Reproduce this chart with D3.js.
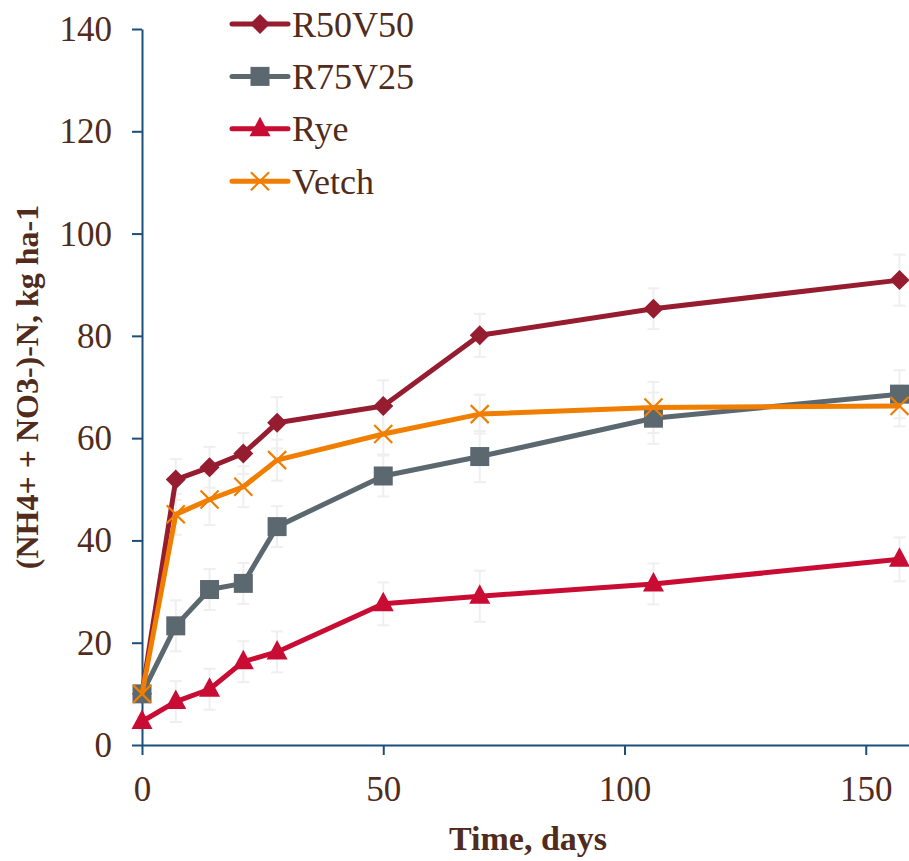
<!DOCTYPE html>
<html>
<head>
<meta charset="utf-8">
<script src="https://cdn.jsdelivr.net/npm/d3@7"></script>
<style>
  body { margin: 0; background: #fff; }
</style>
</head>
<body>
<div id="chart"></div>
<script>
// data
const days = [0, 7, 14, 21, 28, 50, 70, 106, 157]
const seriesNames = ['R50V50', 'R75V25', 'Rye', 'Vetch']
const r50v50 = [10, 51.9, 54.3, 57.0, 63.0, 66.3, 80.1, 85.3, 90.9]
const r75v25 = [10, 23.3, 30.4, 31.6, 42.7, 52.6, 56.4, 63.9, 68.6]
const rye = [4.6, 8.5, 10.9, 16.3, 18.2, 27.6, 29.1, 31.5, 36.3]
const vetch = [10, 45.1, 48.0, 50.5, 55.7, 60.8, 64.7, 66.0, 66.3]
const r50v50Err = [1, 4, 4, 4, 5, 5, 4.2, 4, 5]
const r75v25Err = [1, 5, 4, 4, 4, 4, 5, 5, 4.7]
const ryeErr = [1, 4, 4, 4, 4, 4.2, 5, 4, 4.3]
const vetchErr = [1, 4, 5, 4, 4, 4, 3.8, 5, 4]
const xTicks = [0, 50, 100, 150]
const yTicks = [0, 20, 40, 60, 80, 100, 120, 140]

const colors = ['#961c30', '#5b6870', '#c80c33', '#f07e00']
const symbols = ['diamond', 'square', 'triangle', 'cross']
const values = [r50v50, r75v25, rye, vetch]
const errors = [r50v50Err, r75v25Err, ryeErr, vetchErr]

const width = 909
const height = 861
const textColor = '#512b1b'
const axisColor = '#1d4e79'
const serif = "'Liberation Serif', 'Times New Roman', Times, serif"

const series = seriesNames.map((name, i) => ({
  name,
  color: colors[i],
  symbol: symbols[i],
  points: days.map((d, j) => ({x: d, y: values[i][j], e: errors[i][j]}))
}))

const x = d3.scaleLinear().domain([0, 160]).range([142, 914])
const y = d3.scaleLinear().domain([0, 140]).range([745, 29])

const svg = d3.select('#chart').append('svg')
  .attr('width', width)
  .attr('height', height)
  .attr('font-family', serif)

// axes
const xAxis = svg.append('g')
  .attr('transform', `translate(0,${y(0)})`)
  .call(d3.axisBottom(x).tickValues(xTicks).tickSize(10).tickSizeOuter(0).tickPadding(20))
const yAxis = svg.append('g')
  .attr('transform', `translate(${x(0)},0)`)
  .call(d3.axisLeft(y).tickValues(yTicks).tickSize(10).tickSizeOuter(0).tickPadding(20))

for (let ax of [xAxis, yAxis]) {
  ax.attr('font-family', serif).attr('font-size', 35)
  ax.select('.domain').attr('stroke', axisColor).attr('stroke-width', 2)
  ax.selectAll('.tick line').attr('stroke', axisColor).attr('stroke-width', 2)
  ax.selectAll('.tick text')
    .attr('fill', textColor)
    .attr('font-family', serif)
    .attr('font-size', 35)
}
xAxis.selectAll('.tick text').attr('dy', '0.75em')
yAxis.selectAll('.tick text').attr('dy', '0.33em')

// axis titles
svg.append('text')
  .attr('x', 528)
  .attr('y', 850)
  .attr('text-anchor', 'middle')
  .attr('fill', textColor)
  .attr('font-family', serif)
  .attr('font-size', 34)
  .attr('font-weight', 'bold')
  .text('Time, days')

svg.append('text')
  .attr('transform', `translate(38,${(y(0) + y(140)) / 2}) rotate(-90)`)
  .attr('text-anchor', 'middle')
  .attr('fill', textColor)
  .attr('font-family', serif)
  .attr('font-size', 32)
  .attr('font-weight', 'bold')
  .text('(NH4+ + NO3-)-N, kg ha-1')

// error bars first, very light
const errG = svg.append('g')
for (let s of series) {
  const g = errG.selectAll(null).data(s.points).enter().append('g')
    .attr('stroke', '#efefef')
    .attr('stroke-width', 2)
  g.append('line')
    .attr('x1', d => x(d.x)).attr('x2', d => x(d.x))
    .attr('y1', d => y(d.y - d.e)).attr('y2', d => y(d.y + d.e))
  g.append('line')
    .attr('x1', d => x(d.x) - 6).attr('x2', d => x(d.x) + 6)
    .attr('y1', d => y(d.y + d.e)).attr('y2', d => y(d.y + d.e))
  g.append('line')
    .attr('x1', d => x(d.x) - 6).attr('x2', d => x(d.x) + 6)
    .attr('y1', d => y(d.y - d.e)).attr('y2', d => y(d.y - d.e))
}

function drawMarker (sel, s) {
  if (s.symbol === 'cross') {
    sel.append('path')
      .attr('d', 'M-9,-9L9,9M-9,9L9,-9')
      .attr('stroke', s.color)
      .attr('stroke-width', 2.2)
      .attr('fill', 'none')
  } else if (s.symbol === 'diamond') {
    sel.append('path').attr('d', 'M0,-10L10,0L0,10L-10,0Z').attr('fill', s.color)
  } else if (s.symbol === 'square') {
    sel.append('rect').attr('x', -9.5).attr('y', -9.5).attr('width', 19).attr('height', 19).attr('fill', s.color)
  } else {
    sel.append('path').attr('d', 'M0,-12L10.5,7.5L-10.5,7.5Z').attr('fill', s.color)
  }
}

const line = d3.line().x(d => x(d.x)).y(d => y(d.y))

for (let s of series) {
  const g = svg.append('g')
  g.append('path')
    .datum(s.points)
    .attr('d', line)
    .attr('fill', 'none')
    .attr('stroke', s.color)
    .attr('stroke-width', 5)
    .attr('stroke-linejoin', 'round')
  g.selectAll('.mk').data(s.points).enter().append('g')
    .attr('class', 'mk')
    .attr('transform', d => `translate(${x(d.x)},${y(d.y)})`)
    .each(function () { drawMarker(d3.select(this), s) })
}

// legend
const legend = svg.append('g')
series.forEach((s, i) => {
  const ly = 24 + i * 52.4
  const row = legend.append('g').attr('transform', `translate(232,${ly})`)
  row.append('line')
    .attr('x1', 0).attr('x2', 56)
    .attr('stroke', s.color).attr('stroke-width', 5).attr('stroke-linecap', 'round')
  drawMarker(row.append('g').attr('transform', 'translate(28,0)'), s)
  row.append('text')
    .attr('x', 60)
    .attr('dy', '0.35em')
    .attr('fill', textColor)
    .attr('font-family', serif)
    .attr('font-size', 36)
    .text(s.name)
})
</script>
</body>
</html>
